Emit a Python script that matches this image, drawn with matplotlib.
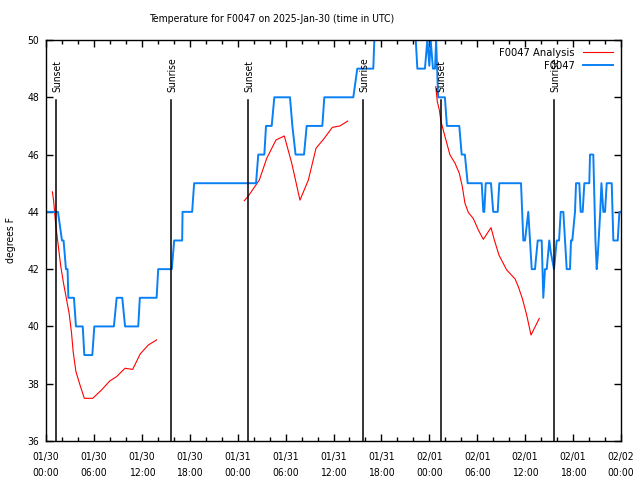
import numpy as np
import matplotlib
matplotlib.use("Agg")
import matplotlib.pyplot as plt
from matplotlib.ticker import MultipleLocator

# observations (hours since 2025-01-30 00:00 UTC, deg F)
obs_hours = [0.0, 1.5, 2.0, 2.2, 2.5, 2.7, 2.8, 3.5, 3.75, 4.6, 4.8, 5.8, 6.05, 8.5,
             8.85, 9.55, 9.9, 11.55, 11.75, 13.85, 14.05, 15.75, 16.05, 17.05, 17.1,
             18.3, 18.55, 26.3, 26.58, 27.34, 27.55, 28.26, 28.59, 30.55, 30.85, 31.25,
             32.31, 32.64, 34.6, 34.85, 38.48, 38.98, 40.98, 41.25, 46.1, 46.5, 47.45,
             47.75, 48.0, 48.17, 48.45, 48.71, 48.85, 49.1, 49.95, 50.2, 51.75, 52.05,
             52.45, 52.8, 54.56, 54.76, 54.88, 55.06, 55.72, 56.0, 56.56, 56.76, 59.48,
             59.77, 59.98, 60.39, 60.82, 61.23, 61.57, 62.07, 62.27, 62.48, 62.7, 63.02,
             63.2, 63.61, 63.95, 64.24, 64.45, 64.78, 64.99, 65.2, 65.61, 65.74, 65.9,
             66.24, 66.37, 66.78, 66.95, 67.2, 67.41, 68.03, 68.12, 68.53, 68.8, 68.96,
             69.1, 69.4, 69.55, 69.79, 70.0, 70.21, 70.84, 71.04, 71.59, 71.8, 72.0]
obs_temp = [44, 44, 43, 43, 42, 42, 41, 41, 40, 40, 39, 39, 40, 40,
            41, 41, 40, 40, 41, 41, 42, 42, 43, 43, 44,
            44, 45, 45, 46, 46, 47, 47, 48, 48, 47, 46,
            46, 47, 47, 48, 48, 49, 49, 51, 51, 49, 49,
            50, 49.1, 50, 49, 49, 50, 48, 48, 47, 47, 46,
            46, 45, 45, 44, 44, 45, 45, 44, 44, 45, 45,
            43, 43, 44, 42, 42, 43, 43, 41, 42, 42, 43,
            42.6, 42, 43, 43, 44, 44, 43, 42, 42, 43, 43,
            44, 45, 45, 44, 44, 45, 45, 46, 46, 43, 42,
            42.5, 44, 45, 44, 44, 45, 45, 43, 43, 44, 44]

# analysis (three runs, separated by gaps)
ana_hours = [0.8, 0.95, 1.2, 1.5, 1.85, 2.2, 2.6, 2.9, 3.2, 3.4, 3.75, 4.25, 4.8, 5.85,
             6.95, 8.0, 8.85, 9.9, 10.85, 11.8, 12.8, 13.85, np.nan,
             24.83, 25.33, 26.71, 27.64, 28.8, 29.84, 30.77, 31.8, 32.85, 33.81, 34.85,
             35.85, 36.81, 37.78, np.nan,
             48.8, 49.0, 49.25, 49.46, 49.96, 50.58, 51.21, 51.75, 52.13, 52.46, 52.88,
             53.5, 54.13, 54.76, 55.72, 56.14, 56.72, 57.69, 58.73, 59.14, 59.64, 60.19,
             60.73, 61.77]
ana_temp = [44.7, 44.4, 43.6, 42.9, 42.1, 41.5, 40.9, 40.45, 39.76, 39.12, 38.42, 37.96,
            37.49, 37.49, 37.78, 38.1, 38.25, 38.54, 38.5, 39.04, 39.35, 39.53, np.nan,
            44.39, 44.55, 45.11, 45.87, 46.51, 46.65, 45.7, 44.41, 45.11, 46.22, 46.57,
            46.95, 47.0, 47.17, np.nan,
            48.37, 47.85, 47.56, 47.15, 46.63, 45.99, 45.7, 45.35, 44.88, 44.3, 43.98,
            43.77, 43.37, 43.04, 43.45, 43.02, 42.49, 41.97, 41.66, 41.39, 40.98, 40.4,
            39.7, 40.28]

sun_hours = [1.25, 15.69, 25.33, 39.73, 49.42, 63.65]
sun_labels = ["Sunset", "Sunrise", "Sunset", "Sunrise", "Sunset", "Sunrise"]

xtick_labels = ["01/30\n00:00", "01/30\n06:00", "01/30\n12:00", "01/30\n18:00",
                "01/31\n00:00", "01/31\n06:00", "01/31\n12:00", "01/31\n18:00",
                "02/01\n00:00", "02/01\n06:00", "02/01\n12:00", "02/01\n18:00",
                "02/02\n00:00"]

plt.rcParams['font.family'] = ['DejaVu Sans']
plt.rcParams['font.stretch'] = 'condensed'
fs = 7.5

fig = plt.figure(figsize=(6.4, 4.8), dpi=100)
ax = fig.add_axes([46/640, 1-441/480, 575/640, 401/480])

ax.plot(ana_hours, ana_temp, color='#ff0000', lw=0.8, label='F0047 Analysis')
ax.plot(obs_hours, obs_temp, color='#0a80f5', lw=1.4, label='F0047')

for h, lab in zip(sun_hours, sun_labels):
    ax.plot([h, h], [36, 47.92], color='black', lw=1.1)
    ax.text(h + 0.15, 48.2, lab, rotation=90, ha='center', va='bottom', fontsize=fs)

ax.set_xlim(0, 72)
ax.set_ylim(36, 50)
ax.set_xticks(np.arange(0, 73, 6))
ax.set_xticklabels(xtick_labels, fontsize=fs, linespacing=1.7)
ax.xaxis.set_minor_locator(MultipleLocator(2))
ax.set_yticks(np.arange(36, 51, 2))
ax.tick_params(axis='y', labelsize=fs)
ax.tick_params(which='major', direction='in', length=5, width=1, top=True, right=True, pad=5)
ax.tick_params(which='minor', direction='in', length=3, width=1, top=True)
ax.tick_params(axis='x', pad=8)
for s in ax.spines.values():
    s.set_linewidth(1.0)

ax.set_ylabel('degrees F', fontsize=fs, labelpad=8)
fig.text(271.5/640, 1-19/480, 'Temperature for F0047 on 2025-Jan-30 (time in UTC)',
         ha='center', va='center', fontsize=fs)

ax.legend(loc='upper right', frameon=False, markerfirst=False, fontsize=fs + 0.5,
          handlelength=2.7, borderaxespad=0.55, labelspacing=0.2, handletextpad=0.7,
          borderpad=0.2)

fig.savefig('out.png', dpi=100)
